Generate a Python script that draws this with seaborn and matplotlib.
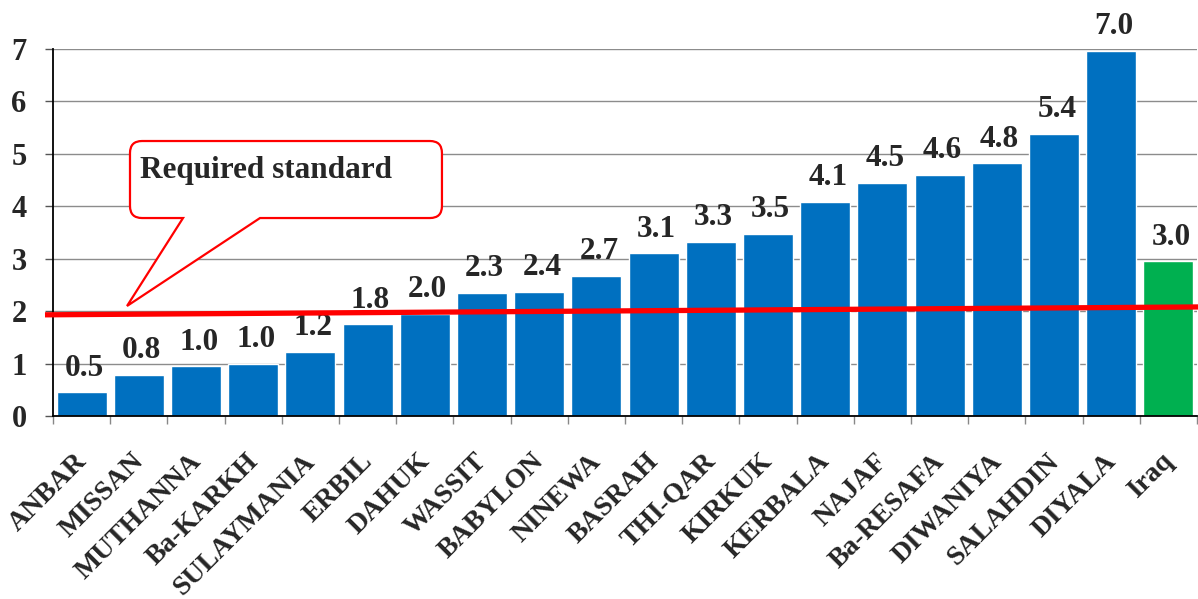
import numpy as np
import pandas as pd
import matplotlib
matplotlib.use("Agg")
import matplotlib.pyplot as plt
import seaborn as sns
from matplotlib.path import Path
from matplotlib.patches import PathPatch

# Datos
regions = ['ANBAR', 'MISSAN', 'MUTHANNA', 'Ba-KARKH', 'SULAYMANIA', 'ERBIL', 'DAHUK',
           'WASSIT', 'BABYLON', 'NINEWA', 'BASRAH', 'THI-QAR', 'KIRKUK', 'KERBALA',
           'NAJAF', 'Ba-RESAFA', 'DIWANIYA', 'SALAHDIN', 'DIYALA', 'Iraq']
values = [0.45, 0.78, 0.95, 1.0, 1.23, 1.75, 1.95, 2.35, 2.37, 2.67, 3.1, 3.32,
          3.48, 4.08, 4.45, 4.6, 4.82, 5.38, 6.97, 2.95]
value_labels = ['0.5', '0.8', '1.0', '1.0', '1.2', '1.8', '2.0', '2.3', '2.4', '2.7',
                '3.1', '3.3', '3.5', '4.1', '4.5', '4.6', '4.8', '5.4', '7.0', '3.0']
groups = ['gov'] * 19 + ['iraq']
standard_line = [1.93, 2.08]  # inicio / fin de la linea roja
callout_text = 'Required standard'

COLOR_GOV = '#0070C0'
COLOR_IRAQ = '#00B050'

sns.set_theme(style="white")
plt.rcParams['font.family'] = ['Liberation Serif', 'DejaVu Serif']
plt.rcParams['font.weight'] = 'bold'

W, H = 1198, 599
fig = plt.figure(figsize=(W / 100, H / 100), dpi=100)
ax = fig.add_axes([53 / W, 1 - 416 / H, 1144 / W, 367 / H])

df = pd.DataFrame({'region': regions, 'value': values, 'group': groups})
sns.barplot(data=df, x='region', y='value', hue='group',
            palette={'gov': COLOR_GOV, 'iraq': COLOR_IRAQ}, dodge=False,
            width=0.875, saturation=1, legend=False, ax=ax, zorder=2)

ax.set_xlim(-0.5, len(regions) - 0.5)
ax.set_ylim(0, 7)
ax.set_xlabel('')
ax.set_ylabel('')

# Ejes y grilla
ax.set_yticks(range(8))
ax.yaxis.grid(True, color='#8c8c8c', linewidth=1)
ax.set_axisbelow(True)
for side in ['top', 'right']:
    ax.spines[side].set_visible(False)
ax.spines['left'].set_color('black')
ax.spines['bottom'].set_color('black')
ax.spines['left'].set_linewidth(1.3)
ax.spines['bottom'].set_linewidth(1.3)
ax.tick_params(axis='y', left=True, length=6, width=1, color='#555555',
               pad=13, labelsize=22)

ax.set_xticks(np.arange(-0.5, len(regions), 1))
ax.set_xticklabels([])
ax.tick_params(axis='x', bottom=True, length=6, width=1, color='#888888')

# Nombres de categorias (rotados)
for i, name in enumerate(regions):
    ax.annotate(name, xy=(i + 0.02, 0), xycoords=('data', 'axes fraction'),
                xytext=(0, -30), textcoords='offset points', rotation=45,
                rotation_mode='anchor', ha='right', va='center', fontsize=20,
                fontweight='bold', annotation_clip=False)

# Etiquetas de valores
for i, (v, lab) in enumerate(zip(values, value_labels)):
    ax.annotate(lab, xy=(i, v), xytext=(2, 12), textcoords='offset points',
                ha='center', va='baseline', fontsize=22.5, fontweight='bold',
                annotation_clip=False, zorder=3)

# Linea del estandar requerido
x0, x1 = -0.64, len(regions) - 0.48
ax.plot([x0, x1], standard_line, color='#FF0000', linewidth=3.8,
        solid_capstyle='butt', clip_on=False, zorder=5)

# Globo de texto
bx0, bx1, by0, by1 = 0.846, 6.30, 3.776, 5.245
rx, ry = 0.21, 0.23
p0, p1 = 1.773, 3.119
tip = (0.794, 2.098)
verts = [
    (p1, by0), (bx1 - rx, by0), (bx1, by0), (bx1, by0 + ry),
    (bx1, by1 - ry), (bx1, by1), (bx1 - rx, by1),
    (bx0 + rx, by1), (bx0, by1), (bx0, by1 - ry),
    (bx0, by0 + ry), (bx0, by0), (bx0 + rx, by0),
    (p0, by0), tip, (p1, by0),
]
codes = [Path.MOVETO, Path.LINETO, Path.CURVE3, Path.CURVE3,
         Path.LINETO, Path.CURVE3, Path.CURVE3,
         Path.LINETO, Path.CURVE3, Path.CURVE3,
         Path.LINETO, Path.CURVE3, Path.CURVE3,
         Path.LINETO, Path.LINETO, Path.CLOSEPOLY]
ax.add_patch(PathPatch(Path(verts, codes), facecolor='white', edgecolor='#FF0000',
                       linewidth=1.6, zorder=6, clip_on=False))
ax.text(1.02, 4.69, callout_text, ha='left', va='center', fontsize=22.5,
        fontweight='bold', zorder=7)

fig.savefig('out.png', dpi=100)
plt.close(fig)
